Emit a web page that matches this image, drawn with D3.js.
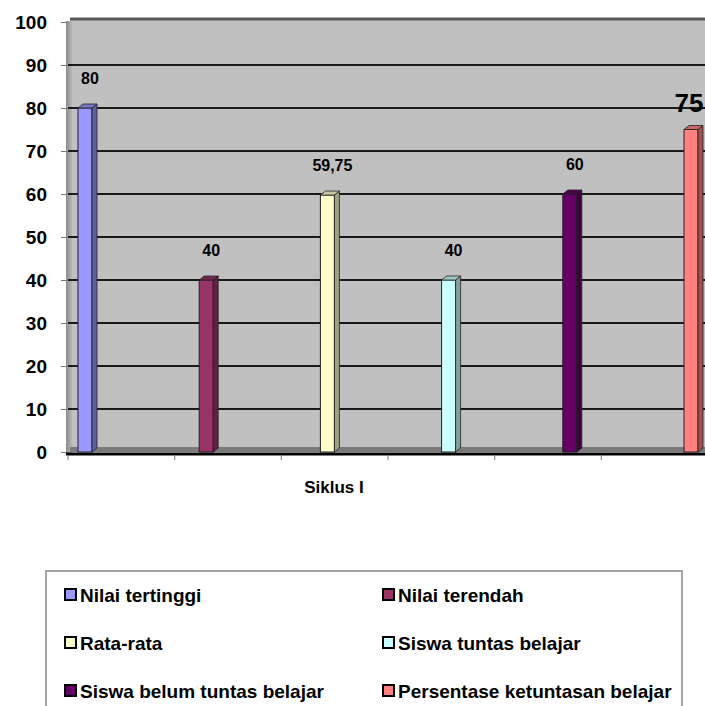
<!DOCTYPE html>
<html>
<head>
<meta charset="utf-8">
<script src="https://cdn.jsdelivr.net/npm/d3@7"></script>
<style>
  body { margin: 0; background: #fff; }
  svg { font-family: "Liberation Sans", Arial, sans-serif; font-weight: bold; }
</style>
</head>
<body>
<div id="chart"></div>
<script>
const category = 'Siklus I';
const series = ['Nilai tertinggi', 'Nilai terendah', 'Rata-rata', 'Siswa tuntas belajar', 'Siswa belum tuntas belajar', 'Persentase ketuntasan belajar'];
const values = [80, 40, 59.75, 40, 60, 75];
const colors = ['#9999FF', '#993366', '#FFFFCC', '#CCFFFF', '#660066', '#FF8080'];
const yTicks = [0, 10, 20, 30, 40, 50, 60, 70, 80, 90, 100];

const width = 705, height = 706;
const plotLeft = 68, plotRight = 705, plotTop = 22, plotBottom = 452;

const svg = d3.select('#chart').append('svg')
  .attr('width', width)
  .attr('height', height);

const y = d3.scaleLinear().domain([0, 100]).range([plotBottom, plotTop]);
const x = d3.scalePoint().domain(series).range([85, 691]);
const xTick = d3.scaleLinear().domain([0, 6]).range([plotLeft, 708]);
const barW = 14, dx = 5, dy = 4;

// back wall
svg.append('rect')
  .attr('x', plotLeft + 2).attr('y', plotTop - 3)
  .attr('width', plotRight - plotLeft).attr('height', plotBottom - plotTop + 3)
  .attr('fill', '#c0c0c0');

// side wall
const grad = svg.append('defs').append('linearGradient').attr('id', 'wall');
grad.append('stop').attr('offset', '0%').attr('stop-color', '#8a8a8a');
grad.append('stop').attr('offset', '100%').attr('stop-color', '#b8b8b8');
svg.append('rect')
  .attr('x', plotLeft - 2).attr('y', plotTop - 1)
  .attr('width', 6).attr('height', plotBottom - plotTop + 3)
  .attr('fill', 'url(#wall)');

// floor strip
svg.append('rect')
  .attr('x', plotLeft + 2).attr('y', plotBottom - 5)
  .attr('width', plotRight - plotLeft).attr('height', 5)
  .attr('fill', '#7a7a7a');

// gridlines
svg.append('g').selectAll('line')
  .data(yTicks.filter(d => d > 0 && d < 100))
  .enter().append('line')
  .attr('x1', plotLeft).attr('x2', plotRight)
  .attr('y1', d => y(d)).attr('y2', d => y(d))
  .attr('stroke', '#1a1a1a').attr('stroke-width', 2);

// top edge of wall
svg.append('line')
  .attr('x1', plotLeft + 2).attr('x2', plotRight)
  .attr('y1', y(100) - 3).attr('y2', y(100) - 3)
  .attr('stroke', '#5a5a5a').attr('stroke-width', 3);

// y axis
const yAxis = svg.append('g')
  .attr('transform', `translate(${plotLeft - 1},0)`)
  .call(d3.axisLeft(y).tickValues(yTicks).tickSize(6).tickPadding(14));
yAxis.select('.domain').remove();
yAxis.selectAll('.tick line').attr('stroke', '#777');
yAxis.selectAll('.tick text')
  .attr('font-size', 19).attr('font-weight', 'bold')
  .attr('fill', '#000')
  .attr('font-family', '"Liberation Sans", Arial, sans-serif');

// bars
const bars = svg.append('g').selectAll('g')
  .data(series)
  .enter().append('g');

bars.append('rect')
  .attr('x', d => x(d) - barW / 2)
  .attr('y', (d, i) => y(values[i]))
  .attr('width', barW)
  .attr('height', (d, i) => plotBottom - y(values[i]))
  .attr('fill', (d, i) => colors[i])
  .attr('stroke', '#222').attr('stroke-width', 1);

bars.append('path')
  .attr('d', (d, i) => {
    const x0 = x(d) + barW / 2, yt = y(values[i]);
    return `M${x0},${yt} L${x0 + dx},${yt - dy} L${x0 + dx},${plotBottom - dy} L${x0},${plotBottom} Z`;
  })
  .attr('fill', (d, i) => d3.color(colors[i]).darker(1.3))
  .attr('stroke', '#222').attr('stroke-width', 0.8);

bars.append('path')
  .attr('d', (d, i) => {
    const x0 = x(d) - barW / 2, yt = y(values[i]);
    return `M${x0},${yt} L${x0 + dx},${yt - dy} L${x0 + barW + dx},${yt - dy} L${x0 + barW},${yt} Z`;
  })
  .attr('fill', (d, i) => d3.color(colors[i]).darker(0.7))
  .attr('stroke', '#222').attr('stroke-width', 0.8);

// floor line
svg.append('line')
  .attr('x1', plotLeft - 2).attr('x2', plotRight)
  .attr('y1', plotBottom + 2).attr('y2', plotBottom + 2)
  .attr('stroke', '#000').attr('stroke-width', 3);

// category ticks
svg.append('g').selectAll('line')
  .data(d3.range(7))
  .enter().append('line')
  .attr('x1', d => xTick(d)).attr('x2', d => xTick(d))
  .attr('y1', plotBottom + 3).attr('y2', plotBottom + 8)
  .attr('stroke', '#777');

// value labels (last one is bigger, kept inside the frame)
const isLast = i => i === series.length - 1;
svg.append('g').selectAll('text')
  .data(series)
  .enter().append('text')
  .attr('x', d => Math.min(x(d) + 5, width - 16))
  .attr('y', (d, i) => y(values[i]) - (isLast(i) ? 18 : 24))
  .attr('text-anchor', 'middle')
  .attr('font-size', (d, i) => isLast(i) ? 26 : 16)
  .text((d, i) => String(values[i]).replace('.', ','));

svg.append('text')
  .attr('x', 334).attr('y', 493)
  .attr('text-anchor', 'middle')
  .attr('font-size', 17)
  .text(category);

// legend
svg.append('rect')
  .attr('x', 46).attr('y', 571)
  .attr('width', 636).attr('height', 160)
  .attr('fill', '#fff')
  .attr('stroke', '#888').attr('stroke-width', 1.5);

const legend = svg.append('g').selectAll('g')
  .data(series)
  .enter().append('g')
  .attr('transform', (d, i) => `translate(${i % 2 ? 383 : 65},${595 + Math.floor(i / 2) * 48})`);

legend.append('rect')
  .attr('x', 0).attr('y', -6)
  .attr('width', 11).attr('height', 11)
  .attr('fill', (d, i) => colors[i])
  .attr('stroke', '#000').attr('stroke-width', 2);

legend.append('text')
  .attr('x', 15).attr('y', 7)
  .attr('font-size', 19)
  .text(d => d);
</script>
</body>
</html>
